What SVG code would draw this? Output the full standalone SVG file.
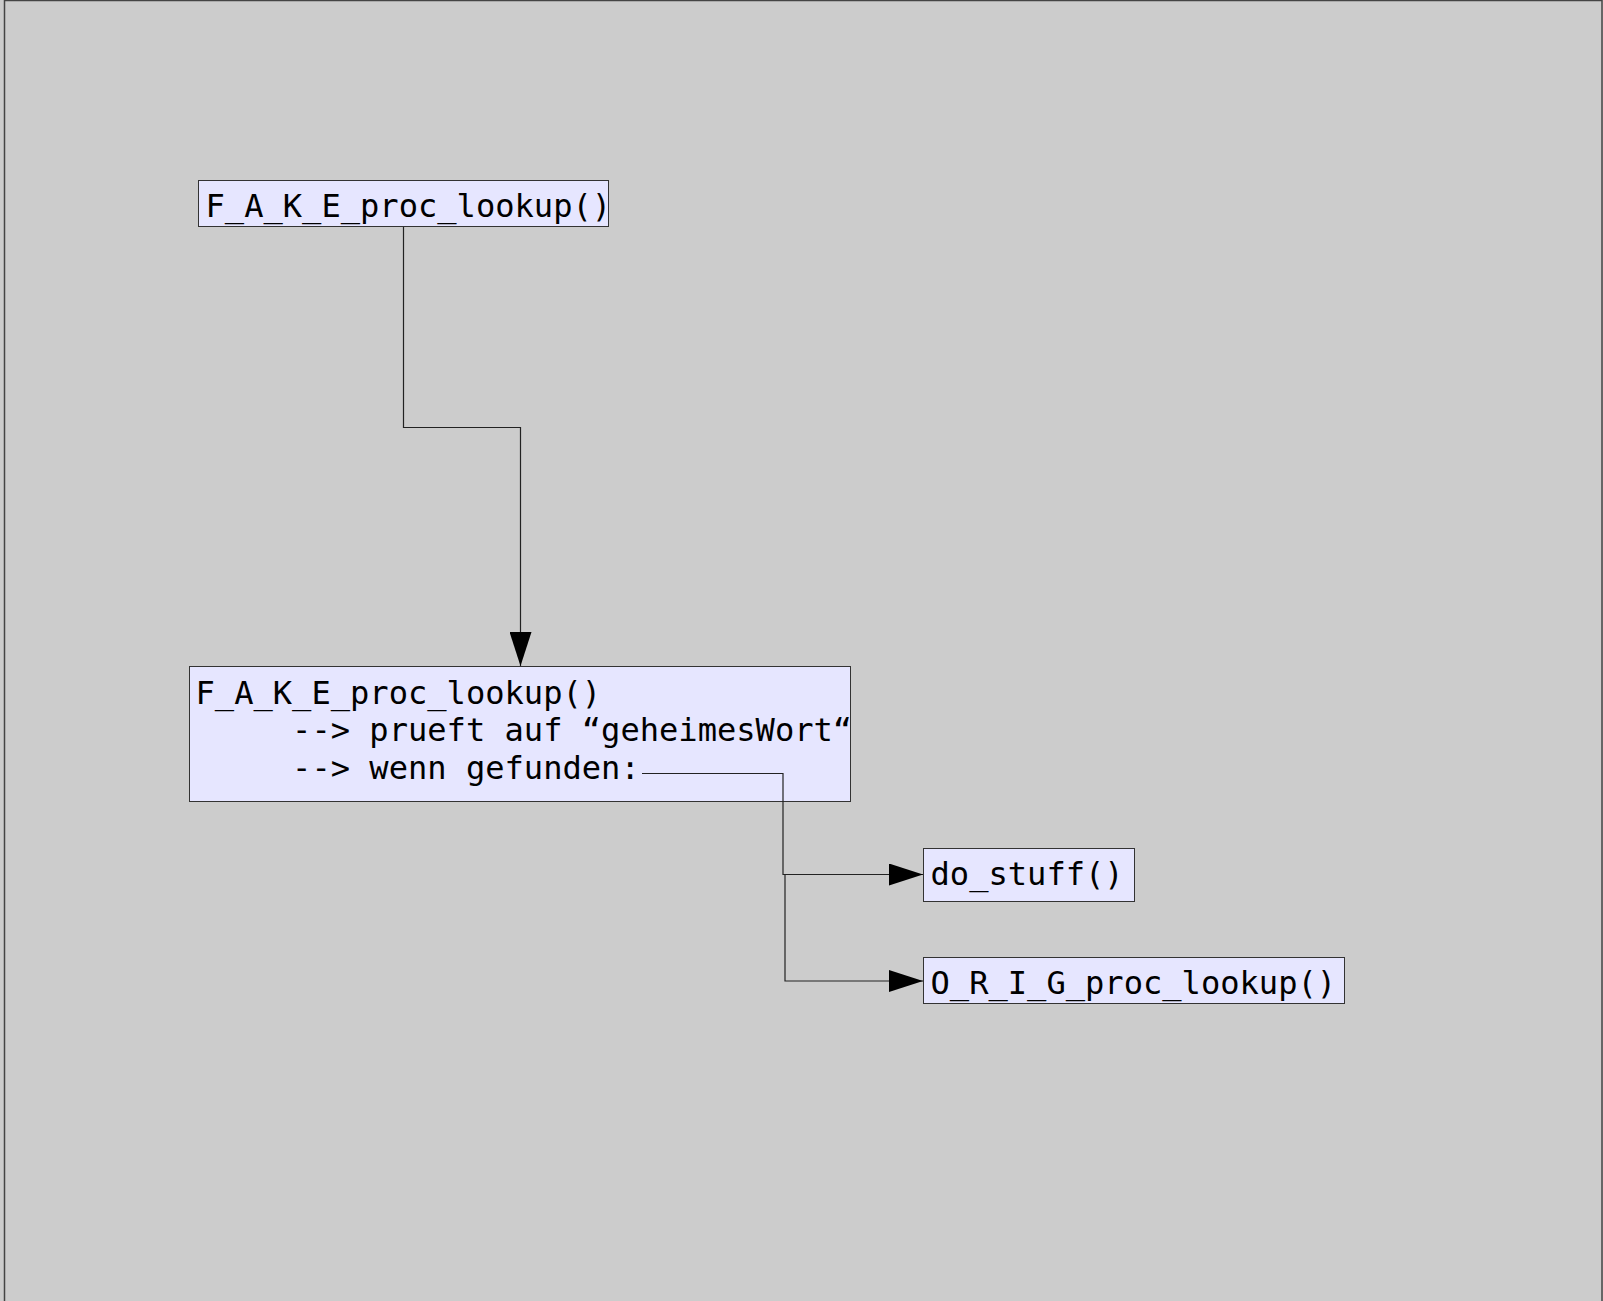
<svg xmlns="http://www.w3.org/2000/svg" width="1603" height="1301" viewBox="0 0 1603 1301">
<defs>
<style>
.node rect{fill:#e6e6ff;stroke:#333;stroke-width:1}
.node text{font-family:"DejaVu Sans Mono",monospace;font-size:32.1px;fill:#000}
.conn path{fill:none;stroke:#222;stroke-width:1.2}
</style>
<marker id="arr" markerUnits="userSpaceOnUse" markerWidth="34" markerHeight="22" refX="34" refY="11" orient="auto">
<path d="M0,0 L34,11 L0,22 Z" fill="#000"/>
</marker>
</defs>
<rect x="0" y="0" width="1603" height="1301" fill="#cccccc"/>
<rect x="4.5" y="0.5" width="1597.5" height="1320" fill="#cccccc" stroke="#444" stroke-width="1.5"/>
<g id="node-fake1" class="node">
<rect x="198.5" y="180.5" width="410" height="46"/>
<text x="205.5" y="217">F_A_K_E_proc_lookup()</text>
</g>
<g id="node-fake2" class="node">
<rect x="189.5" y="666.5" width="661" height="135"/>
<text xml:space="preserve"><tspan x="195.5" y="704">F_A_K_E_proc_lookup()</tspan><tspan x="195.5" y="741">     --&gt; prueft auf “geheimesWort“</tspan><tspan x="195.5" y="778.5">     --&gt; wenn gefunden:</tspan></text>
</g>
<g id="node-dostuff" class="node">
<rect x="923.5" y="848.5" width="211" height="53"/>
<text x="930.5" y="885">do_stuff()</text>
</g>
<g id="node-orig" class="node">
<rect x="923.5" y="957.5" width="421" height="46"/>
<text x="930.5" y="993.5">O_R_I_G_proc_lookup()</text>
</g>
<g id="connectors" class="conn">
<path d="M642,773.5 H783 V874.5 H923" marker-end="url(#arr)"/>
<path d="M403.5,227 V427.5 H520.5 V666" marker-end="url(#arr)"/>
<path d="M785,875 V981 H923" marker-end="url(#arr)"/>
</g>
</svg>
